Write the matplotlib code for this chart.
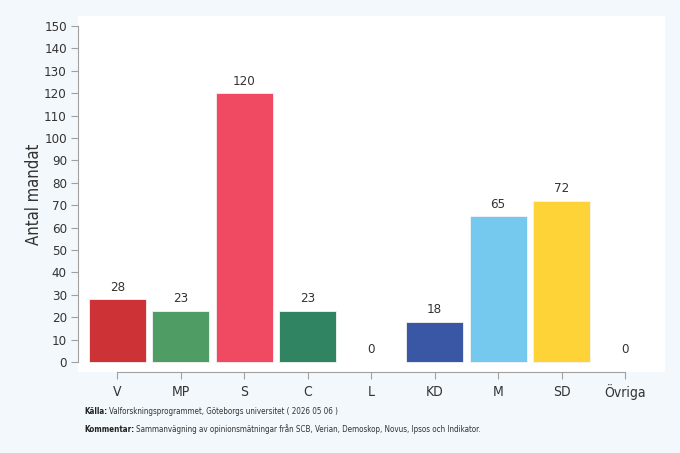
import numpy as np
import matplotlib.pyplot as plt

# Mandatfördelning per parti
partier = ['V', 'MP', 'S', 'C', 'L', 'KD', 'M', 'SD', 'Övriga']
mandat = [28, 23, 120, 23, 0, 18, 65, 72, 0]
farger = ['#cc3236', '#4f9c64', '#ef4a61', '#318462', '#999999',
          '#3a57a6', '#75c9ef', '#fdd337', '#999999']

kalla = 'Valforskningsprogrammet, Göteborgs universitet ( 2026 05 06 )'
kommentar = 'Sammanvägning av opinionsmätningar från SCB, Verian, Demoskop, Novus, Ipsos och Indikator.'

plt.rcParams['font.family'] = ['DejaVu Sans']
plt.rcParams['font.stretch'] = 'condensed'
textfarg = '#333333'
axelfarg = '#a0a0a0'

fig = plt.figure(figsize=(6.8, 4.53), dpi=100)
fig.patch.set_facecolor('#f2f8fc')
ax = fig.add_axes([78 / 680, 81 / 453, 587 / 680, 356 / 453])
ax.set_facecolor('white')

x = np.arange(len(partier))
kanter = ['#f4f4f4' if v > 0 else 'none' for v in mandat]
ax.bar(x, mandat, width=0.9, color=farger, edgecolor=kanter, linewidth=0.6)
for xi, v in zip(x, mandat):
    ax.annotate(str(v), (xi, v), xytext=(0, 4), textcoords='offset points',
                ha='center', va='bottom', fontsize=9.5, color=textfarg)

ax.set_xlim(-0.62, 8.63)
ax.set_ylim(-4.46, 154.5)
ax.set_yticks(range(0, 151, 10))
ax.set_xticks(x)
ax.set_xticklabels(partier)

for s in ['top', 'right']:
    ax.spines[s].set_visible(False)
ax.spines['left'].set_bounds(0, 150)
ax.spines['bottom'].set_bounds(0, 8)
ax.spines['left'].set_color(axelfarg)
ax.spines['bottom'].set_color(axelfarg)
ax.tick_params(axis='y', colors=axelfarg, labelcolor=textfarg, labelsize=9.5, length=5, pad=3)
ax.tick_params(axis='x', colors=axelfarg, labelcolor=textfarg, labelsize=10, length=5, pad=4)

ax.set_ylabel('Antal mandat', fontsize=12, color=textfarg, labelpad=1)

# fotnoter: fet rubrik följt av vanlig text
renderer = fig.canvas.get_renderer()
for y_px, rubrik, txt in [(412, 'Källa:', kalla), (429, 'Kommentar:', kommentar)]:
    t = fig.text(84 / 680, 1 - y_px / 453, rubrik, fontsize=5.8, fontweight='bold',
                 color='#222222', va='center')
    bb = t.get_window_extent(renderer)
    fig.text((bb.x1 + 2) / 680, 1 - y_px / 453, txt, fontsize=5.8, color=textfarg, va='center')

fig.savefig('out.png', dpi=100, facecolor=fig.get_facecolor())
